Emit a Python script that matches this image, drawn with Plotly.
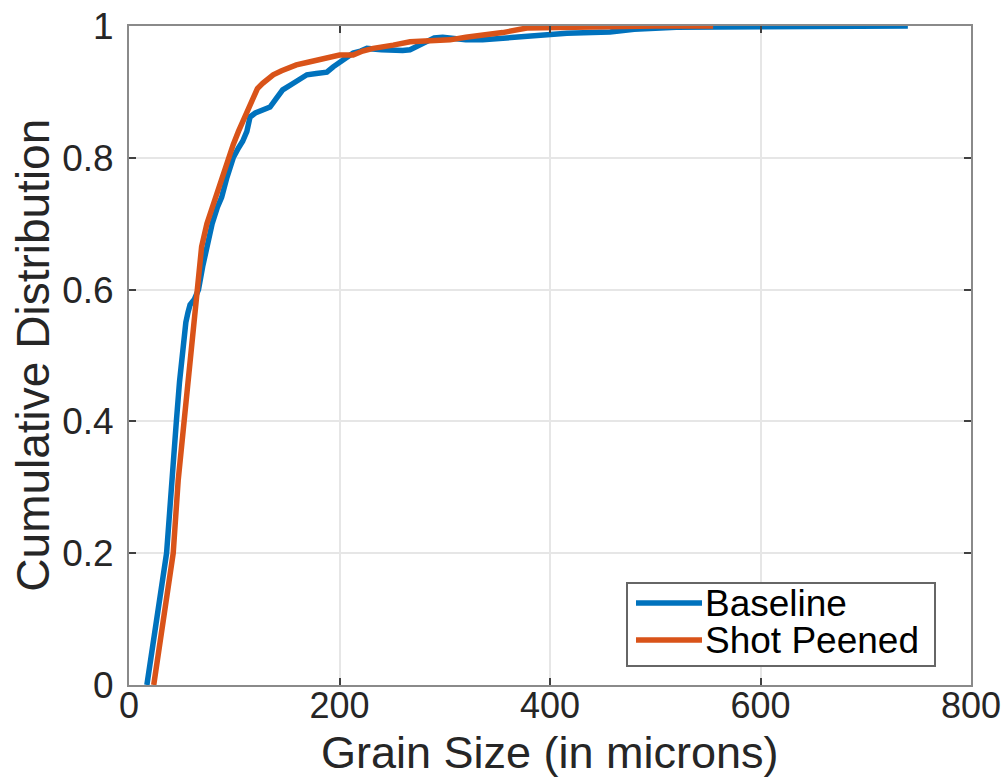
import plotly.graph_objects as go

# Baseline CDF (grain size in microns, cumulative fraction)
baseline_x = [17, 21.5, 26, 31, 35.7, 38.5, 40.5, 42, 45, 48, 51, 54, 56, 58, 62, 66, 70, 74, 79, 84,
              88, 93, 99, 104, 108, 112, 115, 120, 127, 134, 140, 146, 155, 162, 169, 178, 188, 194, 200, 207,
              213, 220, 226, 240, 251, 260, 267, 280, 290, 298, 310, 320, 336, 350, 368, 390, 416, 440, 457, 480,
              520, 600, 680, 740]
baseline_y = [0, 0.05, 0.1, 0.15, 0.2, 0.26, 0.31, 0.33, 0.4, 0.46, 0.51, 0.55, 0.565, 0.577, 0.585, 0.6, 0.635, 0.665, 0.7, 0.725,
              0.74, 0.77, 0.8, 0.815, 0.825, 0.84, 0.862, 0.868, 0.872, 0.877, 0.89, 0.903, 0.912, 0.918, 0.926, 0.928, 0.93, 0.938, 0.944, 0.952,
              0.959, 0.962, 0.966, 0.964, 0.963, 0.963, 0.964, 0.975, 0.982, 0.983, 0.981, 0.979, 0.979, 0.981, 0.983, 0.987, 0.989, 0.99, 0.991, 0.995,
              0.998, 0.999, 1.0, 1.0]

# Shot Peened CDF
peened_x = [23.5, 28, 32.6, 37, 42, 46.7, 48, 53, 56, 60, 62.7, 66, 69, 74, 78, 82, 88, 94, 99, 104,
            108, 112, 117, 122, 127, 132, 137, 145, 152, 159, 170, 180, 188, 200, 213, 222, 232, 245, 251, 267,
            285, 305, 320, 336, 355, 378, 409, 450, 500, 555]
peened_y = [0, 0.05, 0.1, 0.15, 0.2, 0.31, 0.33, 0.4, 0.46, 0.52, 0.56, 0.6, 0.665, 0.7, 0.72, 0.74, 0.77, 0.8, 0.82, 0.84,
            0.855, 0.872, 0.89, 0.905, 0.913, 0.92, 0.926, 0.932, 0.937, 0.941, 0.945, 0.949, 0.953, 0.956, 0.956, 0.962, 0.966, 0.968, 0.971, 0.976,
            0.977, 0.979, 0.983, 0.986, 0.99, 0.997, 0.998, 0.999, 1.0, 1.0]

series_names = ["Baseline", "Shot Peened"]
series_colors = ["#0072BD", "#D95319"]

x_ticks = [0, 200, 400, 600, 800]
y_ticks = [0, 0.2, 0.4, 0.6, 0.8, 1]

FONT = "Liberation Sans, Arial, Helvetica, sans-serif"
TXT = "#262626"

fig = go.Figure()
for xs, ys, name, col in [(baseline_x, baseline_y, series_names[0], series_colors[0]),
                          (peened_x, peened_y, series_names[1], series_colors[1])]:
    fig.add_trace(go.Scatter(x=xs, y=ys, mode="lines", name=name,
                             line=dict(color=col, width=5.5), showlegend=False))

axis_common = dict(
    showline=True, linecolor="#8a8a8a", linewidth=2, mirror="ticks",
    ticks="inside", ticklen=7, tickwidth=1.5, tickcolor="#404040",
    showgrid=True, gridcolor="#e6e6e6", gridwidth=1.5, zeroline=False,
    automargin=False,
)

fig.update_xaxes(range=[0, 800], tickvals=x_ticks, ticklabelstandoff=-12,
                 tickfont=dict(family=FONT, size=36, color=TXT), **axis_common)
fig.update_yaxes(range=[0, 1], tickvals=y_ticks, ticklabelstandoff=6,
                 tickfont=dict(family=FONT, size=37, color=TXT), **axis_common)

# Axis titles as annotations for exact placement
fig.add_annotation(xref="paper", yref="paper", x=0.5, y=-(779 - 685) / 659.0, yanchor="bottom",
                   text="Grain Size (in microns)", showarrow=False, borderpad=0,
                   font=dict(family=FONT, size=45, color=TXT))
fig.add_annotation(xref="paper", yref="paper", x=-0.115, y=0.5, xanchor="center",
                   text="Cumulative Distribution", showarrow=False, textangle=-90,
                   font=dict(family=FONT, size=46, color=TXT))

# Manual legend (paper coordinates)
def px_x(p):
    return (p - 129) / 842.0

def px_y(p):
    return (685 - p) / 659.0

fig.add_shape(type="rect", xref="paper", yref="paper",
              x0=px_x(627), x1=px_x(935), y0=px_y(666), y1=px_y(583),
              line=dict(color="#666666", width=2), fillcolor="white", layer="above")
for i, (name, col) in enumerate(zip(series_names, series_colors)):
    yc = px_y(603 + i * 37)
    fig.add_shape(type="line", xref="paper", yref="paper",
                  x0=px_x(636), x1=px_x(702), y0=yc, y1=yc,
                  line=dict(color=col, width=5.5), layer="above")
    fig.add_annotation(xref="paper", yref="paper", x=px_x(703), y=yc,
                       text=name, showarrow=False, xanchor="left", yanchor="middle",
                       height=36, valign="middle",
                       font=dict(family=FONT, size=37, color="#000000"))

fig.update_layout(
    width=1008, height=779,
    margin=dict(l=129, r=37, t=26, b=94, autoexpand=False),
    paper_bgcolor="white", plot_bgcolor="white",
)

fig.write_html("out.html")
